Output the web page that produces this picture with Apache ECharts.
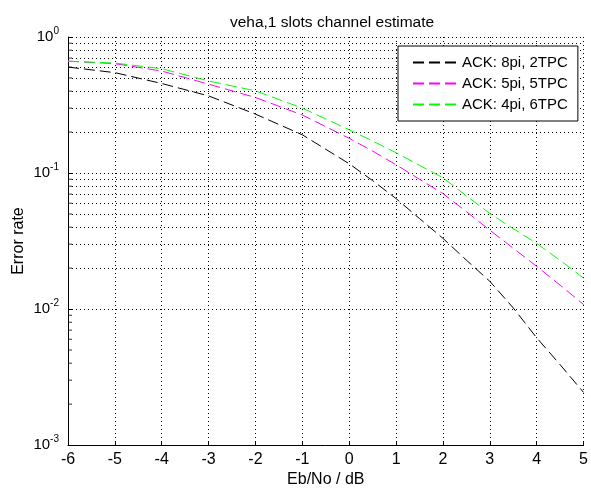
<!DOCTYPE html>
<html>
<head>
<meta charset="utf-8">
<script src="https://cdn.jsdelivr.net/npm/echarts@6/dist/echarts.min.js"></script>
<style>
  html, body { margin: 0; padding: 0; background: #fff; }
  #chart { width: 591px; height: 493px; }
</style>
</head>
<body>
<div id="chart"></div>
<script>
// Eb/No sweep in dB
const ebno = [-6, -5, -4, -3, -2, -1, 0, 0.5, 1, 1.5, 2, 2.5, 3, 3.5, 4, 4.5, 5];

// Error rate per configuration
const ack8pi2tpc = [0.601, 0.547, 0.455, 0.369, 0.271, 0.191, 0.117, 0.0879, 0.0649, 0.0463, 0.0331, 0.0229, 0.0160, 0.0102, 0.00615, 0.0039, 0.00244];
const ack5pi5tpc = [0.665, 0.637, 0.562, 0.450, 0.359, 0.267, 0.180, 0.145, 0.115, 0.090, 0.0706, 0.052, 0.0380, 0.028, 0.0206, 0.0150, 0.0108];
const ack4pi6tpc = [0.662, 0.643, 0.585, 0.475, 0.402, 0.300, 0.208, 0.172, 0.141, 0.114, 0.0924, 0.068, 0.0504, 0.039, 0.0304, 0.0228, 0.0169];

const seriesNames = ['ACK: 8pi, 2TPC', 'ACK: 5pi, 5TPC', 'ACK: 4pi, 6TPC'];
const seriesColors = ['#000000', '#ff00ff', '#00ff00'];
const seriesData = [ack8pi2tpc, ack5pi5tpc, ack4pi6tpc];

// Intermediate log grid levels (2..9 in each decade)
const minorLevels = [
  0.002, 0.003, 0.004, 0.005, 0.006, 0.007, 0.008, 0.009,
  0.02, 0.03, 0.04, 0.05, 0.06, 0.07, 0.08, 0.09,
  0.2, 0.3, 0.4, 0.5, 0.6, 0.7, 0.8, 0.9
];

const FONT = 'Liberation Sans';
const dotted = { color: '#000', width: 1, type: [1, 3] };

const chart = echarts.init(document.getElementById('chart'));

const series = seriesNames.map((name, i) => ({
  name: name,
  type: 'line',
  symbol: 'none',
  smooth: false,
  silent: true,
  data: ebno.map((x, k) => [x, seriesData[i][k]]),
  lineStyle: { color: seriesColors[i], width: 1, type: [11, 5] },
  itemStyle: { color: seriesColors[i] },
  z: 5
}));

// minor dotted grid lines on the log axis
series.push({
  type: 'line',
  data: [],
  silent: true,
  z: 1,
  markLine: {
    silent: true,
    symbol: 'none',
    animation: false,
    label: { show: false },
    lineStyle: dotted,
    emphasis: { disabled: true },
    data: minorLevels.map(v => ({ yAxis: v }))
  }
});

// short inward minor ticks on the left axis
series.push({
  type: 'scatter',
  silent: true,
  symbol: 'rect',
  symbolSize: [4, 1],
  symbolOffset: [2, 0],
  itemStyle: { color: '#000' },
  data: minorLevels.map(v => [-6, v]),
  z: 6
});

chart.setOption({
  animation: false,
  backgroundColor: '#fff',
  textStyle: { fontFamily: FONT },
  title: {
    text: 'veha,1 slots channel estimate',
    left: 327,
    textAlign: 'center',
    top: 10,
    textStyle: { fontFamily: FONT, fontSize: 15.5, fontWeight: 'normal', color: '#000' }
  },
  legend: {
    orient: 'vertical',
    left: 398,
    top: 46,
    z: 50,
    padding: [9, 10, 9, 14],
    itemGap: 6,
    itemWidth: 44,
    itemHeight: 14,
    backgroundColor: '#fff',
    borderColor: '#000',
    borderWidth: 1,
    borderRadius: 0,
    selectedMode: false,
    itemStyle: { opacity: 0 },
    data: seriesNames,
    textStyle: { fontFamily: FONT, fontSize: 15, lineHeight: 14, color: '#000' }
  },
  grid: { left: 68, right: 2, top: 37, bottom: 45, containLabel: false },
  xAxis: {
    type: 'value',
    min: -6,
    max: 5,
    interval: 1,
    name: 'Eb/No / dB',
    nameLocation: 'middle',
    nameGap: 22,
    nameTextStyle: { fontFamily: FONT, fontSize: 16, color: '#000' },
    axisLine: { onZero: false, lineStyle: { color: '#000', width: 1 } },
    axisTick: { inside: true, length: 4, lineStyle: { color: '#000' } },
    axisLabel: { fontFamily: FONT, fontSize: 16, color: '#000', margin: 6 },
    splitLine: { show: true, lineStyle: dotted }
  },
  yAxis: {
    type: 'log',
    logBase: 10,
    min: 0.001,
    max: 1,
    name: 'Error rate',
    nameLocation: 'middle',
    nameGap: 41,
    nameMoveOverlap: false,
    nameTextStyle: { fontFamily: FONT, fontSize: 16, color: '#000' },
    axisLine: { onZero: false, lineStyle: { color: '#000', width: 1 } },
    axisTick: { inside: true, length: 5, lineStyle: { color: '#000' } },
    splitLine: { show: true, lineStyle: dotted },
    axisLabel: {
      margin: 9,
      formatter: function (v) {
        const e = Math.round(Math.log10(v));
        return '{b|10}{e|' + e + '}';
      },
      rich: {
        b: { fontFamily: FONT, fontSize: 15, color: '#000', lineHeight: 15, verticalAlign: 'bottom' },
        e: { fontFamily: FONT, fontSize: 10, color: '#000', lineHeight: 15, verticalAlign: 'bottom', padding: [0, 0, 8, 0] }
      }
    }
  },
  series: series
});
</script>
</body>
</html>
